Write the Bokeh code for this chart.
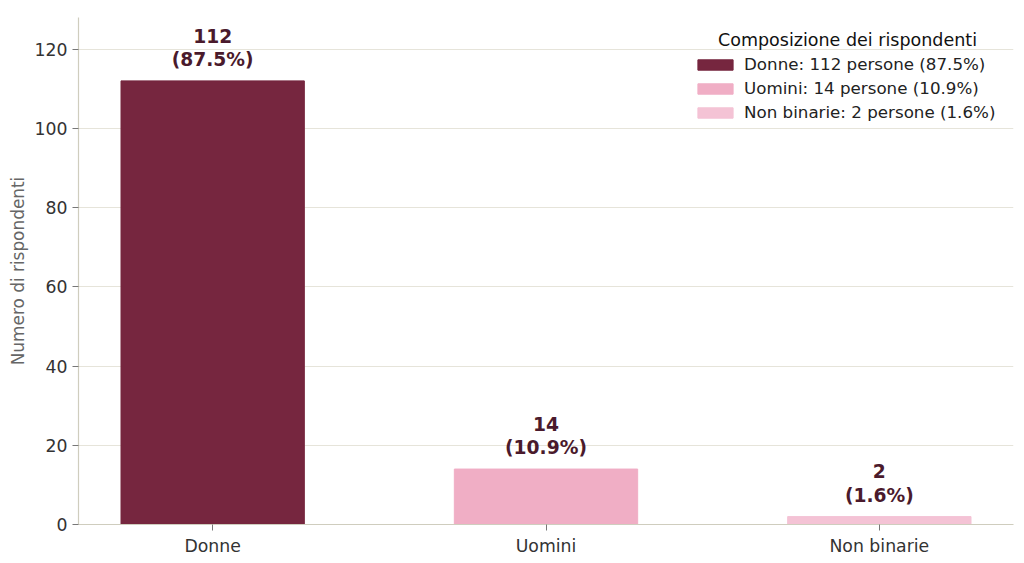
from bokeh.plotting import figure
from bokeh.models import Range1d, FixedTicker, ColumnDataSource, Legend, LegendItem, Label
from bokeh.core.properties import value
from bokeh.embed import file_html
from bokeh.resources import INLINE

categories = ["Donne", "Uomini", "Non binarie"]
counts = [112, 14, 2]
percentages = [87.5, 10.9, 1.6]
colors = ["#76263F", "#F0AEC5", "#F4C3D5"]
y_ticks = [0, 20, 40, 60, 80, 100, 120]
legend_title = "Composizione dei rispondenti"

FONT = "DejaVu Sans"
x_pos = list(range(len(categories)))

p = figure(width=1024, height=558, output_backend="svg", toolbar_location=None,
           x_range=Range1d(-0.4025, 2.4025), y_range=Range1d(0, 128),
           min_border_left=78, min_border_right=11, min_border_top=17, min_border_bottom=33)
p.outline_line_color = None
p.background_fill_color = "white"

items = []
for i, (cat, c, pct, col) in enumerate(zip(categories, counts, percentages, colors)):
    src = ColumnDataSource(dict(x=[x_pos[i]], top=[c]))
    r = p.vbar(x="x", top="top", bottom=0, width=0.55, source=src,
               fill_color=col, line_color=col)
    items.append(LegendItem(label=f"{cat}: {c} persone ({pct}%)", renderers=[r]))

lab_src = ColumnDataSource(dict(
    x=x_pos, y=counts,
    t=[f"{c}\n({pct}%)" for c, pct in zip(counts, percentages)]))
p.text(x="x", y="y", text="t", source=lab_src, text_align="center",
       text_baseline="bottom", y_offset=-11, text_font=value(FONT),
       text_font_style="bold", text_font_size="18.7px", text_color="#4A1A2C",
       text_line_height=1.1)

# axes
p.xaxis.ticker = FixedTicker(ticks=x_pos)
p.xaxis.major_label_overrides = {i: c for i, c in enumerate(categories)}
p.yaxis.ticker = FixedTicker(ticks=y_ticks)
p.xaxis.minor_tick_line_color = None
p.yaxis.minor_tick_line_color = None
for ax in (p.xaxis, p.yaxis):
    ax.axis_line_color = "#CFCDBE"
    ax.axis_line_width = 1.2
    ax.major_tick_line_color = "#777777"
    ax.major_tick_in = 0
    ax.major_tick_out = 6
    ax.major_label_text_font = FONT
    ax.major_label_text_font_size = "17.3px"
    ax.major_label_text_color = "#333333"
    ax.major_label_standoff = 5
p.yaxis.axis_label = "Numero di rispondenti"
p.yaxis.axis_label_text_font = FONT
p.yaxis.axis_label_text_font_size = "16.9px"
p.yaxis.axis_label_text_font_style = "normal"
p.yaxis.axis_label_text_color = "#666666"
p.yaxis.axis_label_standoff = 4

p.xgrid.grid_line_color = None
p.ygrid.grid_line_color = "#E6E4DA"
p.ygrid.grid_line_width = 1

legend = Legend(items=items, location=(615, 402))
legend.label_text_font = FONT
legend.label_text_font_size = "16.7px"
legend.label_text_color = "#222222"
legend.glyph_width = 44
legend.glyph_height = 13
legend.label_height = 20
legend.label_standoff = 7
legend.spacing = 4
legend.padding = 5
legend.margin = 0
legend.border_line_color = None
legend.background_fill_alpha = 0.0
p.add_layout(legend, "center")

title_lbl = Label(x=769, y=485, x_units="screen", y_units="screen", text=legend_title,
                  text_align="center", text_baseline="middle", text_font=FONT,
                  text_font_size="17.5px", text_color="#111111")
p.add_layout(title_lbl)

open("out.html", "w").write(file_html(p, INLINE))
